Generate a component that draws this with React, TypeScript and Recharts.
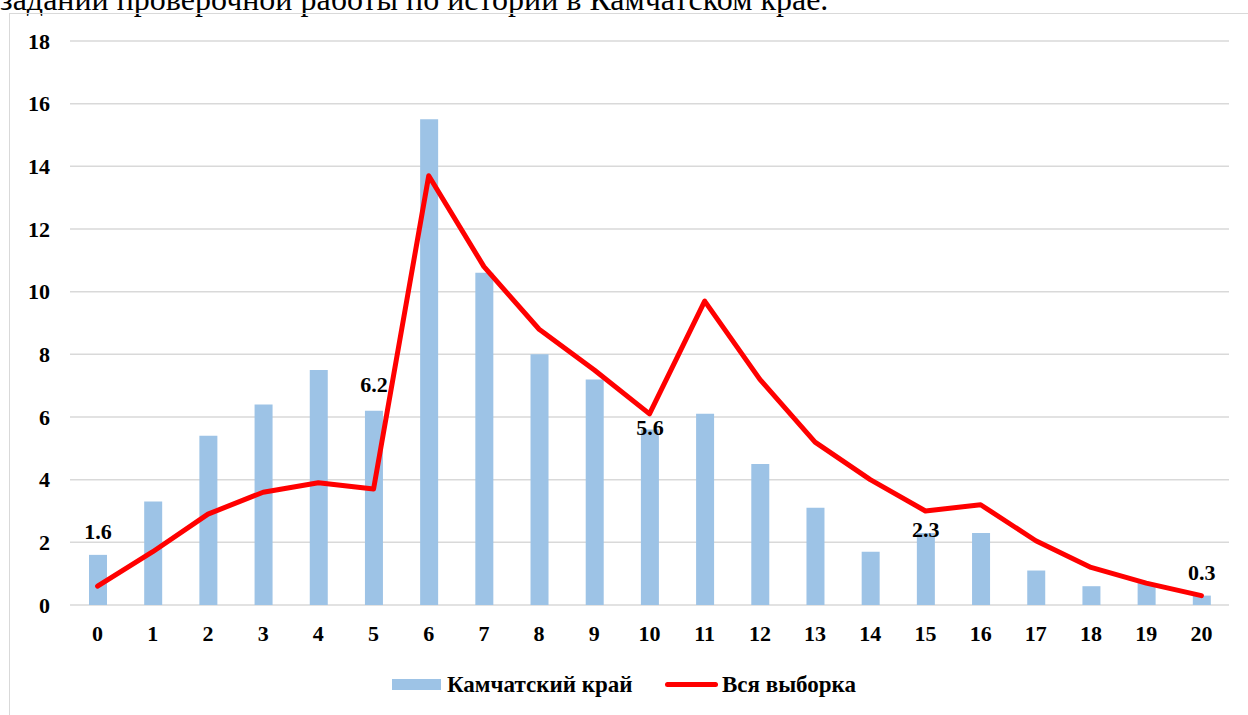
import React from 'react';
import { ComposedChart, Bar, Line, XAxis, YAxis, CartesianGrid, LabelList } from 'recharts';

const categories = ['0','1','2','3','4','5','6','7','8','9','10','11','12','13','14','15','16','17','18','19','20'];
const kamchatka = [1.6, 3.3, 5.4, 6.4, 7.5, 6.2, 15.5, 10.6, 8.0, 7.2, 5.6, 6.1, 4.5, 3.1, 1.7, 2.3, 2.3, 1.1, 0.6, 0.7, 0.3];
const allSample = [0.6, 1.7, 2.9, 3.6, 3.9, 3.7, 13.7, 10.8, 8.8, 7.5, 6.1, 9.7, 7.2, 5.2, 4.0, 3.0, 3.2, 2.05, 1.2, 0.7, 0.3];
const yTicks = [0, 2, 4, 6, 8, 10, 12, 14, 16, 18];
const labeledIndices = [0, 5, 10, 15, 20];
const seriesNames = ['Камчатский край', 'Вся выборка'];
const headingText = 'заданий проверочной работы по истории в Камчатском крае.';

// styling: vertical offset of each shown label's centre from its bar top (px)
const labelOffsets: Record<number, number> = { 0: -23, 5: -26, 10: -2, 15: -3, 20: -23 };

const data = categories.map((c, i) => ({ cat: c, k: kamchatka[i], a: allSample[i] }));

const FONT = '"Liberation Serif", "Times New Roman", serif';
const FS = 22;

const BarLabel = (props: any) => {
  const { x, y, width, value, index } = props;
  if (!labeledIndices.includes(index)) return null;
  const off = labelOffsets[index] ?? -20;
  return (
    <text
      x={Number(x) + Number(width) / 2}
      y={Number(y) + off}
      textAnchor="middle"
      dominantBaseline="central"
      fontFamily={FONT}
      fontWeight="bold"
      fontSize={FS}
      fill="#000"
    >
      {Number(value).toFixed(1)}
    </text>
  );
};

export default function App() {
  const tickStyle = { fontFamily: FONT, fontWeight: 'bold' as const, fontSize: FS, fill: '#000' };
  const legendText: React.CSSProperties = {
    position: 'absolute', top: 0, height: 28, lineHeight: '28px', fontFamily: FONT, fontSize: 23,
    fontWeight: 'bold', color: '#000', whiteSpace: 'nowrap',
  };
  return (
    <div style={{ position: 'absolute', left: 0, top: 0, width: 1248, height: 715, overflow: 'hidden', background: '#fff' }}>
      <div
        style={{
          position: 'absolute', left: 0, top: -19, fontFamily: FONT, fontSize: 32,
          whiteSpace: 'nowrap', color: '#000', lineHeight: 'normal',
        }}
      >
        {headingText}
      </div>
      <div style={{ position: 'absolute', left: 9, top: 13, width: 1260, height: 720, border: '1.5px solid #d9d9d9', boxSizing: 'border-box' }} />
      <div style={{ position: 'absolute', left: 0, top: 0 }}>
        <ComposedChart width={1248} height={715} data={data} margin={{ top: 41, right: 19, left: 0, bottom: 80 }}>
          <CartesianGrid vertical={false} stroke="#d9d9d9" strokeWidth={1.5} />
          <XAxis dataKey="cat" axisLine={false} tickLine={false} tickMargin={14} height={30} tick={tickStyle} interval={0} />
          <YAxis domain={[0, 18]} ticks={yTicks} axisLine={false} tickLine={false} tickMargin={14} width={70} tick={tickStyle} interval={0} />
          <Bar dataKey="k" name={seriesNames[0]} fill="#9dc3e6" barSize={18} isAnimationActive={false}>
            <LabelList dataKey="k" content={BarLabel} />
          </Bar>
          <Line dataKey="a" name={seriesNames[1]} stroke="#ff0000" strokeWidth={5} dot={false} strokeLinecap="round" strokeLinejoin="round" type="linear" isAnimationActive={false} />
        </ComposedChart>
      </div>
      <div style={{ position: 'absolute', left: 0, top: 671, width: 1248, height: 28 }}>
        <span style={{ position: 'absolute', left: 392, top: 8, width: 49, height: 11, background: '#9dc3e6' }} />
        <span style={{ ...legendText, left: 447 }}>{seriesNames[0]}</span>
        <span style={{ position: 'absolute', left: 665, top: 11, width: 53, height: 5, background: '#ff0000', borderRadius: 3 }} />
        <span style={{ ...legendText, left: 722 }}>{seriesNames[1]}</span>
      </div>
    </div>
  );
}
